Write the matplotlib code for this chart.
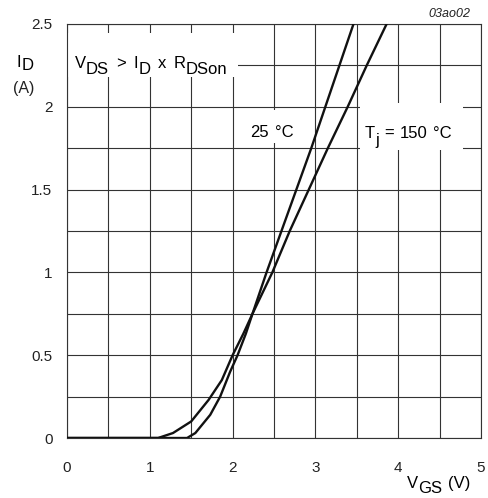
import matplotlib
matplotlib.use("Agg")
import matplotlib.pyplot as plt
from matplotlib.patches import Rectangle
from matplotlib.ticker import MultipleLocator

plt.rcParams['font.family'] = ['Liberation Sans', 'DejaVu Sans']

# drain current vs gate-source voltage
vgs_150 = [0, 1.1, 1.28, 1.5, 1.71, 1.87, 2.0, 2.13, 2.24, 2.48, 2.69, 2.92, 3.15, 3.39, 3.62, 3.86]
id_150 = [0, 0, 0.03, 0.1, 0.23, 0.35, 0.5, 0.63, 0.75, 1.0, 1.25, 1.5, 1.75, 2.0, 2.25, 2.5]
vgs_25 = [0, 1.45, 1.55, 1.73, 1.85, 1.97, 2.06, 2.16, 2.24, 2.41, 2.59, 2.77, 2.95, 3.12, 3.29, 3.46]
id_25 = [0, 0, 0.03, 0.14, 0.25, 0.4, 0.5, 0.63, 0.75, 1.0, 1.25, 1.5, 1.75, 2.0, 2.25, 2.5]

x_ticks = [0, 1, 2, 3, 4, 5]
y_ticks = [0, 0.5, 1, 1.5, 2, 2.5]
y_labels = ['0', '0.5', '1', '1.5', '2', '2.5']

W, H = 488, 498
fig = plt.figure(figsize=(W / 100, H / 100), dpi=100)
ax = fig.add_axes([67 / W, 1 - 438 / H, 414 / W, 414 / H])


def rich(first_xy, parts, size, transform, style='normal'):
    # parts: (text, gap before in pt, baseline shift in pt)
    txt, gap, dy = parts[0]
    first = ax.text(first_xy[0], first_xy[1], txt, fontsize=size, va='baseline',
                    ha='left', transform=transform, zorder=4, style=style, clip_on=False)
    prev = first
    for txt, gap, dy in parts[1:]:
        prev = ax.annotate(txt, xy=(1, 0), xycoords=(prev, first), xytext=(gap, dy),
                           textcoords='offset points', va='bottom', ha='left',
                           fontsize=size, zorder=4, style=style)
    return first


ax.plot(vgs_25, id_25, color='#111111', lw=1.7, zorder=3, solid_joinstyle='round')
ax.plot(vgs_150, id_150, color='#111111', lw=1.7, zorder=3, solid_joinstyle='round')

ax.set_xlim(0, 5)
ax.set_ylim(0, 2.5)
ax.set_xticks(x_ticks)
ax.set_xticklabels([str(v) for v in x_ticks])
ax.set_yticks(y_ticks)
ax.set_yticklabels(y_labels)
ax.xaxis.set_minor_locator(MultipleLocator(0.5))
ax.yaxis.set_minor_locator(MultipleLocator(0.25))
ax.tick_params(which='both', length=0)
ax.tick_params(axis='x', pad=16.5, labelsize=11, colors='#222222')
ax.tick_params(axis='y', pad=10.5, labelsize=11, colors='#222222')
ax.set_axisbelow(True)
ax.grid(which='both', color='#333333', lw=0.8)
for sp in ax.spines.values():
    sp.set_color('#333333')
    sp.set_linewidth(0.8)

# white boxes behind the labels
for x0, x1, y0, y1 in [(0.0, 2.06, 2.18, 2.445), (2.2, 2.85, 1.78, 1.98), (3.54, 4.78, 1.74, 2.02)]:
    ax.add_patch(Rectangle((x0, y0), x1 - x0, y1 - y0, facecolor='white',
                           edgecolor='none', zorder=1))

sub = -4.5
gap = 5.5
rich((0.092, 2.234), [('V', 0, 0), ('DS', 0, sub), ('>', gap, 0), ('I', gap, 0),
                      ('D', 0, sub), ('x', gap, 0), ('R', gap, 0), ('DSon', 0, sub)],
     12, ax.transData)
rich((2.215, 1.818), [('25', 0, 0), ('°C', 4.0, 0)], 12, ax.transData)
rich((3.60, 1.81), [('T', 0, 0), ('j', 0, sub), ('=', 4.0, 0), ('150', 4.0, 0), ('°C', 4.0, 0)],
     12, ax.transData)

# axis titles
rich((17 / W, 1 - 67 / H), [('I', 0, 0), ('D', 0, -2.0)], 12, fig.transFigure)
fig.text(13 / W, 1 - 93 / H, '(A)', fontsize=11.5, va='baseline', ha='left', color='#222222')
rich((407 / W, 1 - 488 / H), [('V', 0, 0), ('GS', 0, -3.6), ('(V)', 4.5, 0)], 12, fig.transFigure)

fig.text(470 / W, 1 - 17 / H, '03ao02', fontsize=9, style='italic', ha='right',
         va='baseline', color='#222222')

fig.savefig('out.png', dpi=100)
